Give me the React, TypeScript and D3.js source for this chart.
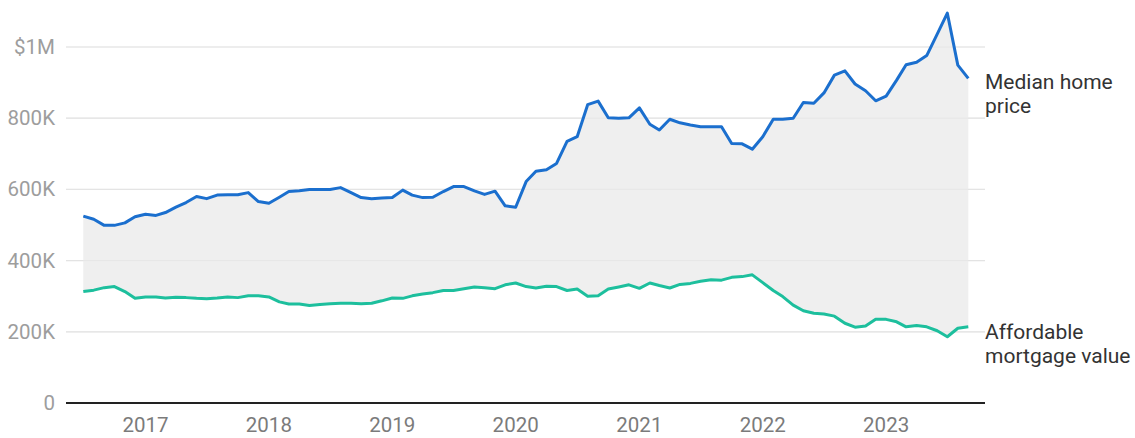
import React from "react";
import * as d3 from "d3";

const startMonth = new Date(2016, 6, 1); // Jul 2016
const endMonth = new Date(2023, 8, 1); // Sep 2023

const medianHomePrice = [
  525, 516, 499, 499, 506, 523, 530, 527, 535, 550, 563, 580, 574, 584, 585, 585,
  591, 566, 561, 578, 594, 596, 600, 600, 600, 605, 591, 577, 574, 576, 577, 598,
  584, 577, 578, 594, 608, 608, 596, 586, 595, 554, 550, 622, 651, 655, 673, 735,
  748, 838, 848, 801, 800, 801, 829, 783, 767, 797, 787, 781, 776, 776, 776, 729,
  728, 713, 748, 797, 797, 800, 844, 842, 871, 921, 933, 896, 877, 849, 862, 907,
  950, 957, 976, 1036, 1095, 949, 912,
];

const affordableMortgage = [
  313, 317, 324, 327, 313, 294, 298, 298, 295, 297, 296, 294, 293, 295, 298, 296,
  301, 301, 298, 284, 278, 278, 274, 277, 279, 280, 280, 279, 280, 287, 295, 294,
  301, 306, 310, 316, 316, 321, 326, 324, 321, 332, 337, 327, 323, 328, 327, 316,
  320, 300, 301, 320, 326, 332, 322, 337, 330, 323, 333, 336, 342, 346, 345, 353,
  355, 360, 338, 316, 299, 275, 259, 252, 250, 244, 224, 213, 216, 235, 235, 228,
  214, 218, 214, 203, 186, 210, 214,
];

const yTicks = [0, 200000, 400000, 600000, 800000, 1000000];
const yTickLabels = ["0", "200K", "400K", "600K", "800K", "$1M"];
const xTickYears = [2017, 2018, 2019, 2020, 2021, 2022, 2023];
const seriesLabels = [
  ["Median home", "price"],
  ["Affordable", "mortgage value"],
];

const W = 1135;
const H = 438;
const FONT = "Roboto, 'Noto Sans', sans-serif";

export default function App() {
  const months = d3.timeMonth.range(startMonth, d3.timeMonth.offset(endMonth, 1));
  const x = d3.scaleTime().domain([startMonth, endMonth]).range([83.3, 968.3]);
  const y = d3.scaleLinear().domain([0, 1000000]).range([403, 47]);

  const rows = months.map((m, i) => ({
    date: m,
    hi: medianHomePrice[i] * 1000,
    lo: affordableMortgage[i] * 1000,
  }));

  const area = d3
    .area<any>()
    .x((d) => x(d.date))
    .y0((d) => y(d.lo))
    .y1((d) => y(d.hi));
  const lineHi = d3
    .line<any>()
    .x((d) => x(d.date))
    .y((d) => y(d.hi));
  const lineLo = d3
    .line<any>()
    .x((d) => x(d.date))
    .y((d) => y(d.lo));

  const gridX0 = 66;
  const gridX1 = 985;

  return (
    <svg
      width={W}
      height={H}
      style={{ position: "absolute", left: 0, top: 0, display: "block" }}
      fontFamily={FONT}
    >
      <rect width={W} height={H} fill="#fff" />
      {yTicks.map((t, i) =>
        t === 0 ? null : (
          <line
            key={"g" + i}
            x1={gridX0}
            x2={gridX1}
            y1={y(t)}
            y2={y(t)}
            stroke="#e6e6e6"
            strokeWidth={1.2}
          />
        )
      )}
      <path d={area(rows) || ""} fill="#efefef" />
      {yTicks.map((t, i) =>
        t === 0 ? null : (
          <line
            key={"go" + i}
            x1={gridX0}
            x2={gridX1}
            y1={y(t)}
            y2={y(t)}
            stroke="#e2e2e2"
            strokeWidth={1}
            opacity={0.6}
          />
        )
      )}
      <path d={lineLo(rows) || ""} fill="none" stroke="#1dbf9d" strokeWidth={3} strokeLinejoin="round" />
      <path d={lineHi(rows) || ""} fill="none" stroke="#1b6fce" strokeWidth={3} strokeLinejoin="round" />
      <line x1={gridX0} x2={gridX1} y1={y(0)} y2={y(0)} stroke="#222" strokeWidth={2.2} />
      {yTicks.map((t, i) => (
        <text
          key={"yl" + i}
          x={55}
          y={y(t) + 7}
          textAnchor="end"
          fontSize={20.5}
          fill="#9d9d9d"
        >
          {yTickLabels[i]}
        </text>
      ))}
      {xTickYears.map((yr) => (
        <text
          key={"xl" + yr}
          x={x(new Date(yr, 0, 1))}
          y={431.5}
          textAnchor="middle"
          fontSize={20.5}
          fill="#7b7b7b"
        >
          {yr}
        </text>
      ))}
      <text x={985} y={89} fontSize={21} fill="#333">
        <tspan x={985} dy={0}>{seriesLabels[0][0]}</tspan>
        <tspan x={985} dy={24}>{seriesLabels[0][1]}</tspan>
      </text>
      <text x={985} y={338.5} fontSize={21} fill="#333">
        <tspan x={985} dy={0}>{seriesLabels[1][0]}</tspan>
        <tspan x={985} dy={24}>{seriesLabels[1][1]}</tspan>
      </text>
    </svg>
  );
}
